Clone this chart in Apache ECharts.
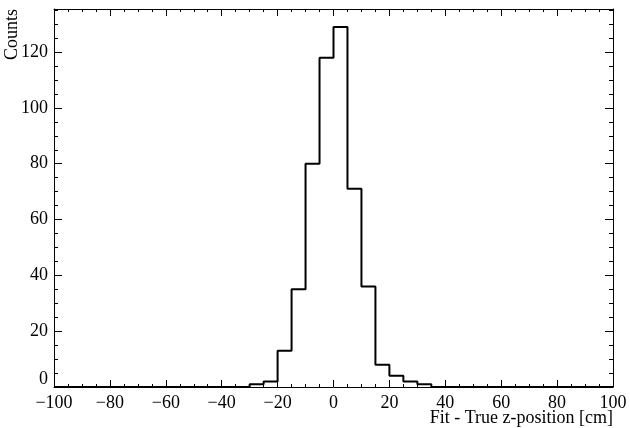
<!DOCTYPE html>
<html>
<head>
<meta charset="utf-8">
<script src="https://cdn.jsdelivr.net/npm/echarts@6/dist/echarts.min.js"></script>
<style>
  html, body { margin: 0; padding: 0; background: #fff; }
  #chart { width: 630px; height: 428px; }
</style>
</head>
<body>
<div id="chart"></div>
<script>
// histogram: 40 bins of 5 cm from -100 to 100
const binLow = -100;
const binWidth = 5;
const counts = [
  0, 0, 0, 0, 0, 0, 0, 0, 0, 0,
  0, 0, 0, 0, 1, 2, 13, 35, 80, 118,
  129, 71, 36, 8, 4, 2, 1, 0, 0, 0,
  0, 0, 0, 0, 0, 0, 0, 0, 0, 0
];
const yMax = 135.45;
const xTitle = "Fit - True z-position [cm]";
const yTitle = "Counts";

const font = "Liberation Serif";
const fsize = 18;

// step outline points at bin edges
const stepData = counts.map((c, i) => [binLow + i * binWidth, c]);
stepData.push([binLow + counts.length * binWidth, counts[counts.length - 1]]);

const fmt = (v) => String(v).replace("-", "\u2212");

const chart = echarts.init(document.getElementById("chart"));

const xBase = {
  type: "value",
  min: -100,
  max: 100,
  interval: 20,
  axisLine: { show: true, onZero: false, lineStyle: { color: "#000", width: 1 } },
  axisTick: { show: true, inside: true, length: 7, lineStyle: { color: "#000" } },
  minorTick: { show: true, splitNumber: 4, length: 3, lineStyle: { color: "#000" } },
  splitLine: { show: false },
  minorSplitLine: { show: false }
};

const yMajor = {
  type: "value",
  min: 0,
  max: yMax,
  interval: 20,
  axisLine: { show: true, onZero: false, lineStyle: { color: "#000", width: 1 } },
  axisTick: { show: true, inside: true, length: 8, lineStyle: { color: "#000" } },
  splitLine: { show: false }
};

const yMinor = {
  type: "value",
  min: 0,
  max: yMax,
  interval: 5,
  axisLine: { show: false, onZero: false },
  axisTick: { show: true, inside: true, length: 4, lineStyle: { color: "#000" } },
  axisLabel: { show: false },
  splitLine: { show: false }
};

const option = {
  animation: false,
  backgroundColor: "#fff",
  grid: { left: 54, right: 17, top: 9, bottom: 41 },
  xAxis: [
    Object.assign({}, xBase, {
      position: "bottom",
      axisLabel: {
        show: true, margin: 7, color: "#000",
        fontFamily: font, fontSize: fsize, formatter: fmt
      }
    }),
    Object.assign({}, xBase, { position: "top", axisLabel: { show: false } })
  ],
  yAxis: [
    Object.assign({}, yMajor, {
      position: "left",
      axisLabel: {
        show: true, margin: 6, color: "#000",
        fontFamily: font, fontSize: fsize, showMaxLabel: false,
        formatter: (v) => (v === 0 ? "{z|0}" : String(v)),
        rich: { z: { fontFamily: font, fontSize: fsize, color: "#000", padding: [0, 0, 16, 0] } }
      }
    }),
    Object.assign({}, yMinor, { position: "left" }),
    Object.assign({}, yMajor, { position: "right", axisLabel: { show: false } }),
    Object.assign({}, yMinor, { position: "right" })
  ],
  series: [
    {
      type: "line",
      step: "end",
      data: stepData,
      xAxisIndex: 0,
      yAxisIndex: 0,
      symbol: "none",
      lineStyle: { color: "#000", width: 2 },
      clip: false
    }
  ],
  graphic: [
    {
      type: "text",
      x: 12,
      y: 9,
      rotation: Math.PI / 2,
      style: {
        text: yTitle, fill: "#000", font: fsize + "px " + font,
        align: "right", verticalAlign: "middle"
      }
    },
    {
      type: "text",
      x: 613,
      y: 418,
      style: {
        text: xTitle, fill: "#000", font: fsize + "px " + font,
        align: "right", verticalAlign: "middle"
      }
    }
  ]
};

chart.setOption(option);
</script>
</body>
</html>
